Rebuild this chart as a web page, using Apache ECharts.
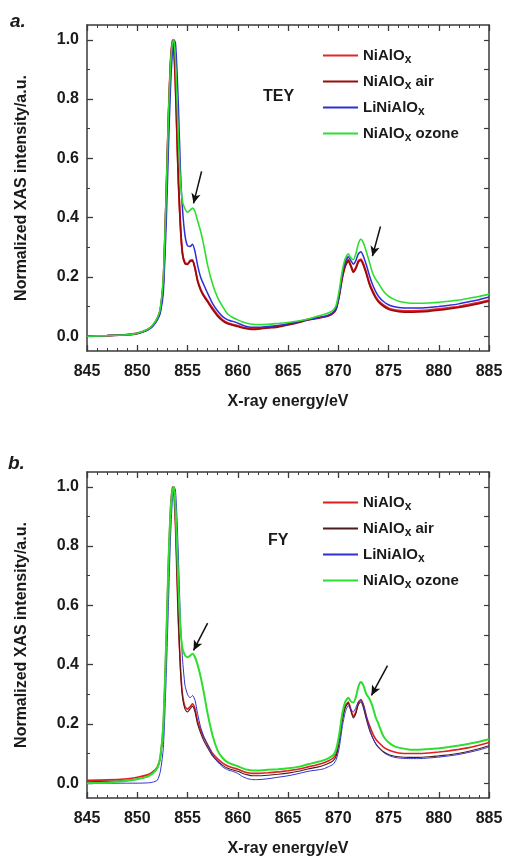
<!DOCTYPE html>
<html>
<head>
<meta charset="utf-8">
<script src="https://cdn.jsdelivr.net/npm/echarts@6/dist/echarts.min.js"></script>
<style>
html,body{margin:0;padding:0;background:#fff;}
#chart{width:506px;height:858px;}
</style>
</head>
<body>
<div id="chart"></div>
<script>
// ---- data ----
const energy = [845, 847, 849, 850, 851, 851.5, 852, 852.3, 852.6, 852.9, 853.1, 853.3, 853.5, 853.65, 853.8, 853.95, 854.1, 854.3, 854.5, 854.75, 855.0, 855.25, 855.5, 855.75, 856.0, 856.3, 856.6, 857.0, 857.5, 858.0, 858.5, 859.0, 859.5, 860.0, 860.5, 861.0, 861.5, 862.0, 863, 864, 865, 866, 867, 868, 868.5, 869, 869.5, 869.8, 870.1, 870.4, 870.7, 871.0, 871.25, 871.5, 871.75, 872.0, 872.25, 872.5, 872.8, 873.1, 873.4, 873.7, 874.0, 874.5, 875.0, 875.5, 876, 877, 878, 879, 880, 881, 882, 883, 884, 885];

// panel a: TEY
const teyNiAlOx = [0.0, 0.002, 0.005, 0.01, 0.022, 0.035, 0.06, 0.09, 0.19, 0.5, 0.74, 0.92, 1.0, 0.96, 0.85, 0.68, 0.52, 0.37, 0.28, 0.248, 0.245, 0.255, 0.257, 0.23, 0.19, 0.16, 0.14, 0.12, 0.095, 0.072, 0.055, 0.045, 0.04, 0.036, 0.03, 0.027, 0.025, 0.026, 0.03, 0.033, 0.04, 0.048, 0.057, 0.063, 0.066, 0.07, 0.08, 0.095, 0.14, 0.2, 0.24, 0.258, 0.24, 0.22, 0.232, 0.255, 0.26, 0.245, 0.215, 0.18, 0.155, 0.135, 0.12, 0.105, 0.095, 0.09, 0.087, 0.085, 0.086, 0.088, 0.092, 0.096, 0.1, 0.107, 0.114, 0.122];
const teyAir = [0.0, 0.002, 0.005, 0.009, 0.021, 0.034, 0.058, 0.088, 0.185, 0.49, 0.73, 0.91, 0.995, 0.97, 0.86, 0.69, 0.52, 0.37, 0.278, 0.245, 0.242, 0.252, 0.255, 0.228, 0.186, 0.156, 0.136, 0.116, 0.09, 0.068, 0.052, 0.042, 0.037, 0.033, 0.028, 0.025, 0.023, 0.024, 0.028, 0.031, 0.038, 0.046, 0.055, 0.061, 0.064, 0.068, 0.078, 0.092, 0.136, 0.196, 0.236, 0.254, 0.236, 0.216, 0.228, 0.25, 0.256, 0.24, 0.21, 0.175, 0.15, 0.13, 0.116, 0.101, 0.091, 0.086, 0.083, 0.081, 0.082, 0.084, 0.088, 0.092, 0.097, 0.103, 0.11, 0.118];
const teyLi = [0.0, 0.002, 0.005, 0.009, 0.02, 0.032, 0.055, 0.08, 0.15, 0.4, 0.63, 0.83, 0.96, 1.0, 0.99, 0.9, 0.77, 0.56, 0.43, 0.34, 0.305, 0.303, 0.31, 0.285, 0.24, 0.2, 0.175, 0.145, 0.11, 0.085, 0.066, 0.055, 0.05, 0.044, 0.037, 0.032, 0.03, 0.03, 0.033, 0.036, 0.042, 0.049, 0.056, 0.062, 0.065, 0.07, 0.08, 0.095, 0.14, 0.21, 0.25, 0.268, 0.255, 0.243, 0.255, 0.278, 0.285, 0.27, 0.24, 0.205, 0.175, 0.152, 0.135, 0.117, 0.106, 0.1, 0.097, 0.095, 0.095, 0.097, 0.1, 0.104, 0.109, 0.116, 0.123, 0.132];
const teyOzone = [0.0, 0.002, 0.005, 0.01, 0.022, 0.036, 0.062, 0.095, 0.2, 0.5, 0.74, 0.91, 0.99, 1.0, 0.93, 0.8, 0.66, 0.52, 0.455, 0.43, 0.418, 0.425, 0.432, 0.42, 0.39, 0.355, 0.31, 0.24, 0.175, 0.13, 0.1, 0.075, 0.063, 0.055, 0.048, 0.043, 0.04, 0.039, 0.04, 0.043, 0.046, 0.051, 0.058, 0.068, 0.072, 0.078, 0.088, 0.105, 0.155, 0.22, 0.262, 0.278, 0.265, 0.258, 0.278, 0.312, 0.327, 0.315, 0.285, 0.25, 0.215, 0.193, 0.178, 0.152, 0.135, 0.125, 0.118, 0.112, 0.111, 0.112, 0.114, 0.118, 0.122, 0.128, 0.134, 0.142];

// panel b: FY
const fyNiAlOx = [0.01, 0.011, 0.015, 0.02, 0.028, 0.037, 0.055, 0.09, 0.2, 0.5, 0.74, 0.92, 1.0, 0.97, 0.87, 0.7, 0.54, 0.39, 0.3, 0.258, 0.25, 0.258, 0.268, 0.25, 0.21, 0.18, 0.155, 0.13, 0.1, 0.082, 0.068, 0.058, 0.052, 0.047, 0.04, 0.035, 0.033, 0.033, 0.035, 0.038, 0.042, 0.047, 0.055, 0.063, 0.068, 0.075, 0.085, 0.1, 0.15, 0.22, 0.26, 0.274, 0.25, 0.225, 0.24, 0.272, 0.282, 0.265, 0.225, 0.195, 0.17, 0.15, 0.138, 0.122, 0.112, 0.106, 0.102, 0.1, 0.1, 0.102, 0.105, 0.109, 0.114, 0.12, 0.128, 0.137];
const fyAir = [0.005, 0.006, 0.01, 0.014, 0.022, 0.032, 0.05, 0.085, 0.19, 0.48, 0.72, 0.9, 0.99, 0.99, 0.88, 0.71, 0.54, 0.38, 0.29, 0.25, 0.24, 0.25, 0.26, 0.24, 0.2, 0.17, 0.145, 0.12, 0.092, 0.074, 0.06, 0.05, 0.045, 0.04, 0.033, 0.028, 0.025, 0.025, 0.027, 0.03, 0.034, 0.04, 0.048, 0.055, 0.06, 0.066, 0.076, 0.092, 0.14, 0.21, 0.255, 0.27, 0.245, 0.22, 0.235, 0.265, 0.275, 0.255, 0.215, 0.18, 0.155, 0.135, 0.122, 0.106, 0.097, 0.092, 0.089, 0.087, 0.087, 0.089, 0.092, 0.096, 0.101, 0.108, 0.116, 0.126];
const fyLi = [0.0, 0.0, 0.0, 0.0, 0.001, 0.003, 0.01, 0.04, 0.12, 0.38, 0.6, 0.82, 0.96, 1.0, 0.99, 0.9, 0.76, 0.55, 0.42, 0.33, 0.3, 0.288, 0.296, 0.28, 0.235, 0.19, 0.16, 0.13, 0.095, 0.072, 0.055, 0.045, 0.04, 0.033, 0.022, 0.015, 0.012, 0.012, 0.015, 0.02, 0.025, 0.032, 0.04, 0.045, 0.048, 0.055, 0.064, 0.08, 0.12, 0.19, 0.24, 0.262, 0.25, 0.24, 0.255, 0.275, 0.28, 0.265, 0.225, 0.185, 0.155, 0.135, 0.12, 0.104, 0.094, 0.088, 0.085, 0.083, 0.083, 0.085, 0.088, 0.092, 0.097, 0.104, 0.112, 0.122];
const fyOzone = [0.0, 0.002, 0.008, 0.013, 0.022, 0.032, 0.052, 0.09, 0.2, 0.5, 0.74, 0.91, 0.99, 1.0, 0.93, 0.8, 0.66, 0.52, 0.455, 0.432, 0.425, 0.43, 0.437, 0.425, 0.4, 0.36, 0.31, 0.235, 0.16, 0.11, 0.085, 0.07, 0.063, 0.057, 0.05, 0.045, 0.043, 0.043, 0.045, 0.047, 0.05, 0.055, 0.064, 0.072, 0.077, 0.084, 0.095, 0.115, 0.165, 0.235, 0.275, 0.288, 0.276, 0.272, 0.29, 0.325, 0.341, 0.33, 0.3, 0.285, 0.26, 0.225, 0.2, 0.158, 0.138, 0.126, 0.12, 0.114, 0.113, 0.115, 0.118, 0.122, 0.127, 0.133, 0.14, 0.148];

const seriesNames = ['NiAlOx', 'NiAlOx air', 'LiNiAlOx', 'NiAlOx ozone'];
const yTicks = [0, 0.2, 0.4, 0.6, 0.8, 1.0];
const yMinorTicks = [0.1, 0.3, 0.5, 0.7, 0.9];
const yAllTicks = [0, 0.1, 0.2, 0.3, 0.4, 0.5, 0.6, 0.7, 0.8, 0.9, 1.0];
// arrows: [from, to] in data coordinates
const teyArrows = [[[856.4, 0.556], [855.6, 0.448]], [[874.2, 0.37], [873.4, 0.27]]];
const fyArrows = [[[857.0, 0.54], [855.6, 0.448]], [[874.9, 0.397], [873.3, 0.296]]];

// ---- build ----
const FONT = '"Liberation Sans", Arial, sans-serif';
const AX = '#3a3a3a';
const TXT = '#1a1a1a';
const pair = arr => energy.map((e, i) => [e, arr[i]]);

const colorsA = ['#e4262a', '#9a0c0c', '#2e2ed8', '#2ede2e'];
const colorsB = ['#e01f1f', '#4c1c1c', '#3030d0', '#2ede2e'];
const widthsA = [1.8, 1.8, 1.5, 1.6];
const widthsB = [1.6, 1.1, 1.0, 2.0];

const grids = [
  {left: 87, top: 25, width: 402, height: 326},
  {left: 87, top: 472, width: 402, height: 326}
];

function xAxes(gi) {
  const base = {
    gridIndex: gi, type: 'value', min: 845, max: 885, interval: 5,
    axisLine: {show: true, onZero: false, lineStyle: {color: AX, width: 1.5}},
    axisTick: {show: true, inside: true, length: 6, lineStyle: {color: AX, width: 1.3}},
    minorTick: {show: true, splitNumber: 5, length: 3, lineStyle: {color: AX, width: 1}},
    splitLine: {show: false}
  };
  return [
    Object.assign({}, base, {
      position: 'bottom',
      axisLabel: {show: true, margin: 13, fontFamily: FONT, fontSize: 16, fontWeight: 'bold', color: TXT},
      name: 'X-ray energy/eV', nameLocation: 'middle', nameGap: 43,
      nameTextStyle: {fontFamily: FONT, fontSize: 16, fontWeight: 'bold', color: TXT}
    }),
    Object.assign({}, base, {position: 'top', axisLabel: {show: false}})
  ];
}
function yAxes(gi) {
  const base = {
    gridIndex: gi, type: 'value', min: -0.05, max: 1.05,
    splitLine: {show: false}
  };
  return [
    Object.assign({}, base, {
      position: 'left',
      axisLine: {show: true, onZero: false, lineStyle: {color: AX, width: 1.5}},
      axisTick: {show: true, inside: true, length: 6, customValues: yTicks, lineStyle: {color: AX, width: 1.3}},
      axisLabel: {show: true, customValues: yTicks, margin: 8, formatter: v => v.toFixed(1),
        fontFamily: FONT, fontSize: 16, fontWeight: 'bold', color: TXT},
      name: 'Normalized XAS intensity/a.u.', nameLocation: 'middle', nameGap: 57,
      nameTextStyle: {fontFamily: FONT, fontSize: 16, fontWeight: 'bold', color: TXT}
    }),
    Object.assign({}, base, {
      position: 'left',
      axisLine: {show: false},
      axisTick: {show: true, inside: true, length: 3, customValues: yMinorTicks, lineStyle: {color: AX, width: 1}},
      axisLabel: {show: false}
    }),
    Object.assign({}, base, {
      position: 'right',
      axisLine: {show: true, onZero: false, lineStyle: {color: AX, width: 1.5}},
      axisTick: {show: true, inside: true, length: 5, customValues: yAllTicks, lineStyle: {color: AX, width: 1.2}},
      axisLabel: {show: false}
    })
  ];
}

function arrowLines(arr) {
  return {
    silent: true, animation: false,
    symbol: ['none', 'arrow'], symbolSize: [7, 10],
    lineStyle: {color: '#111', width: 1.5, type: 'solid'},
    label: {show: false},
    data: arr.map(a => [{coord: a[0]}, {coord: a[1]}])
  };
}

const panelA = [teyNiAlOx, teyAir, teyLi, teyOzone];
const panelB = [fyNiAlOx, fyAir, fyLi, fyOzone];
const series = [];
panelA.forEach((d, i) => series.push({
  name: 'a|' + seriesNames[i], type: 'line', xAxisIndex: 0, yAxisIndex: 0,
  data: pair(d), symbol: 'none', smooth: 0.2, z: 2 + i,
  lineStyle: {color: colorsA[i], width: widthsA[i]}, itemStyle: {color: colorsA[i]},
  markLine: i === 3 ? arrowLines(teyArrows) : undefined
}));
panelB.forEach((d, i) => series.push({
  name: 'b|' + seriesNames[i], type: 'line', xAxisIndex: 2, yAxisIndex: 3,
  data: pair(d), symbol: 'none', smooth: 0.2, z: 2 + i,
  lineStyle: {color: colorsB[i], width: widthsB[i]}, itemStyle: {color: colorsB[i]},
  markLine: i === 3 ? arrowLines(fyArrows) : undefined
}));

function legendFmt(name) {
  const label = name.split('|')[1];
  const idx = label.indexOf('AlOx');
  const head = label.slice(0, idx + 3); // up to 'AlO'
  const tail = label.slice(idx + 4);
  return '{t|' + head + '}{s|x}' + (tail ? '{t|' + tail + '}' : '');
}
const legendRich = {
  t: {fontFamily: FONT, fontSize: 15, fontWeight: 'bold', color: TXT, lineHeight: 18},
  s: {fontFamily: FONT, fontSize: 12, fontWeight: 'bold', color: TXT, lineHeight: 18, padding: [9, 0, 0, 0]}
};
function legend(prefix, top) {
  return {
    orient: 'vertical', left: 323, top: top, padding: 0, itemWidth: 35, itemHeight: 2, itemGap: 5,
    icon: 'rect', selectedMode: false,
    data: seriesNames.map(n => prefix + '|' + n),
    formatter: legendFmt,
    textStyle: {rich: legendRich}
  };
}

const option = {
  animation: false,
  backgroundColor: '#fff',
  grid: grids,
  xAxis: xAxes(0).concat(xAxes(1)),
  yAxis: yAxes(0).concat(yAxes(1)),
  legend: [legend('a', 45), legend('b', 492)],
  series: series,
  graphic: [
    {type: 'text', left: 10, top: 12, style: {text: 'a.', font: 'italic bold 19px ' + FONT, fill: TXT}},
    {type: 'text', left: 8, top: 454, style: {text: 'b.', font: 'italic bold 19px ' + FONT, fill: TXT}},
    {type: 'text', left: 263, top: 89, style: {text: 'TEY', font: 'bold 16px ' + FONT, fill: TXT}},
    {type: 'text', left: 268, top: 533, style: {text: 'FY', font: 'bold 16px ' + FONT, fill: TXT}}
  ]
};

const chart = echarts.init(document.getElementById('chart'), null, {renderer: 'canvas'});
chart.setOption(option);
</script>
</body>
</html>
